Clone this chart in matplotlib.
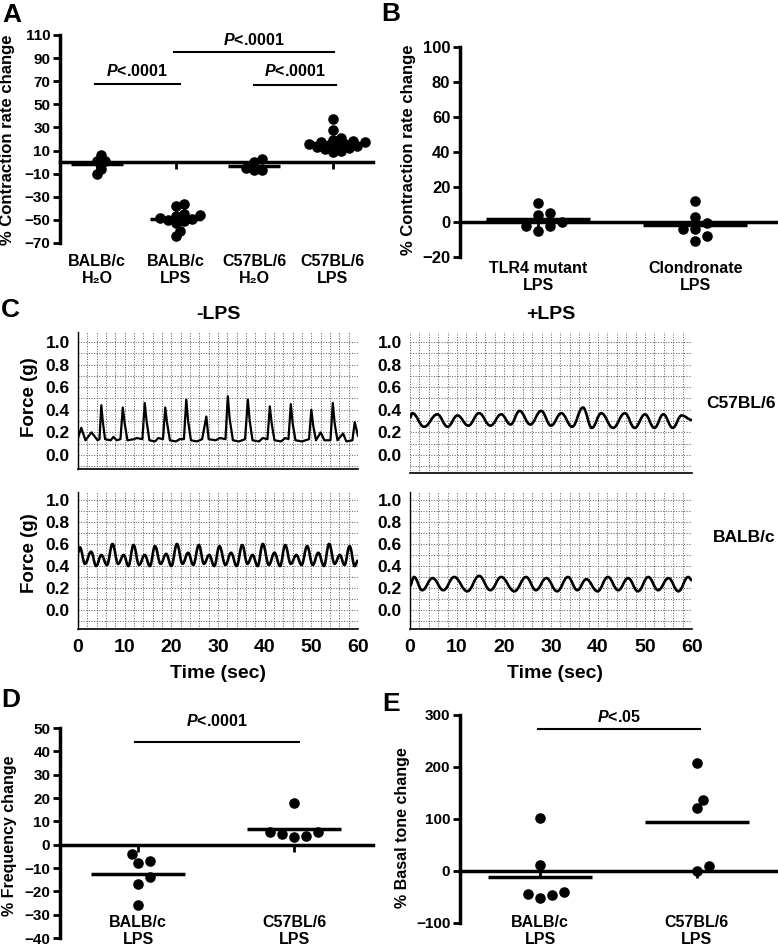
import numpy as np
import matplotlib
matplotlib.use('Agg')
import matplotlib.pyplot as plt
import matplotlib.transforms as mtrans
from matplotlib.path import Path
from matplotlib.patches import PathPatch
from matplotlib.ticker import MultipleLocator

plt.rcParams['font.family'] = ['Liberation Sans', 'DejaVu Sans']
plt.rcParams['font.weight'] = 'bold'
plt.rcParams['mathtext.fontset'] = 'custom'
plt.rcParams['mathtext.it'] = 'Liberation Sans:italic:bold'
plt.rcParams['mathtext.rm'] = 'Liberation Sans:bold'

# ---- data ----
# A: % contraction rate change
a_labels = ['BALB/c\nH₂O', 'BALB/c\nLPS', 'C57BL/6\nH₂O', 'C57BL/6\nLPS']
a_balb_h2o = [1, 1, 6, -10, -6]
a_balb_lps = [-38, -36, -46, -47, -45, -49, -50, -51, -48, -53, -60, -64]
a_c57_h2o = [3, -5, -7, -7, 0]
a_c57_lps = [37, 28, 21, 19, 18, 17, 17, 16, 16, 15, 14, 14, 13, 12, 11, 10, 9]

# B: % contraction rate change
b_labels = ['TLR4 mutant\nLPS', 'Clondronate\nLPS']
b_tlr4 = [11, 5, 4, 0, -2, -2, -5]
b_clod = [12, 3, -0.5, -4, -4, -8, -11]

# C: force traces (time s, force g), vertices
c57_ctrl_t = [0, 0.7, 1.6, 2.9, 4.2, 4.6, 5.0, 5.3, 5.8, 7.0, 7.6, 8.3, 9.1, 9.6, 10.0, 10.6,
              12.0, 12.6, 13.8, 14.3, 14.7, 15.3, 16.5, 17.2, 18.2, 18.7, 19.1, 19.7, 21.0,
              21.8, 22.7, 23.2, 23.6, 24.2, 25.5, 26.6, 27.5, 28.0, 29.5, 30.4, 31.6, 32.1,
              32.5, 33.2, 34.5, 35.8, 36.4, 36.8, 37.4, 38.8, 39.6, 40.6, 41.1, 41.5, 42.1,
              43.5, 44.4, 45.1, 45.6, 46.0, 46.6, 48.0, 49.5, 50.0, 50.4, 51.0, 52.0, 52.8,
              54.1, 54.6, 55.0, 55.6, 56.8, 57.5, 58.8, 59.3, 60.0]
c57_ctrl_f = [0.15, 0.24, 0.13, 0.20, 0.13, 0.14, 0.44, 0.30, 0.14, 0.13, 0.16, 0.13, 0.14, 0.42,
              0.28, 0.13, 0.14, 0.15, 0.14, 0.46, 0.30, 0.13, 0.12, 0.15, 0.14, 0.42, 0.28, 0.13,
              0.12, 0.14, 0.14, 0.49, 0.30, 0.13, 0.12, 0.14, 0.34, 0.14, 0.13, 0.15, 0.14, 0.52,
              0.32, 0.13, 0.12, 0.14, 0.49, 0.30, 0.13, 0.12, 0.15, 0.14, 0.43, 0.28, 0.13, 0.12,
              0.15, 0.14, 0.45, 0.28, 0.13, 0.12, 0.14, 0.40, 0.26, 0.13, 0.20, 0.13, 0.13, 0.46,
              0.28, 0.13, 0.19, 0.12, 0.13, 0.29, 0.17]

c57_lps_t = [0, 0.5, 3.0, 5.8, 8.0, 10.1, 12.4, 14.7, 17.1, 19.4, 21.4, 23.3, 25.6, 27.9, 30.0,
             32.2, 34.5, 36.8, 38.7, 40.7, 43.2, 45.7, 47.8, 50.0, 52.0, 53.9, 55.9, 57.8, 60.0]
c57_lps_f = [0.33, 0.37, 0.25, 0.36, 0.25, 0.35, 0.26, 0.37, 0.26, 0.36, 0.27, 0.39, 0.27, 0.39,
             0.26, 0.37, 0.25, 0.42, 0.24, 0.37, 0.24, 0.37, 0.24, 0.36, 0.24, 0.36, 0.24, 0.35, 0.31]

balb_ctrl_t = [0, 0.4, 1.5, 2.8, 3.9, 5.0, 6.2, 7.4, 8.6, 9.8, 10.8, 11.9, 13.1, 14.3, 15.4,
               16.5, 17.7, 18.9, 20.0, 21.2, 22.4, 23.6, 24.7, 25.9, 27.0, 28.1, 29.2, 30.3,
               31.6, 32.8, 34.0, 35.2, 36.3, 37.4, 38.5, 39.6, 40.9, 42.1, 43.3, 44.4, 45.6,
               46.8, 47.9, 49.1, 50.3, 51.5, 52.7, 53.8, 55.0, 56.1, 57.1, 58.2, 59.3, 60.0]
balb_ctrl_f = [0.52, 0.57, 0.42, 0.53, 0.40, 0.50, 0.41, 0.60, 0.42, 0.50, 0.40, 0.59, 0.41,
               0.50, 0.40, 0.58, 0.42, 0.51, 0.40, 0.60, 0.42, 0.52, 0.41, 0.59, 0.42, 0.50,
               0.40, 0.58, 0.41, 0.52, 0.40, 0.59, 0.42, 0.50, 0.40, 0.60, 0.41, 0.52, 0.40,
               0.59, 0.42, 0.50, 0.41, 0.58, 0.41, 0.52, 0.40, 0.60, 0.42, 0.50, 0.41, 0.58,
               0.40, 0.45]

balb_lps_t = [0, 0.85, 2.6, 4.8, 7.1, 9.4, 12.2, 14.7, 17.1, 19.4, 22.2, 24.7, 26.8, 29.0,
              31.3, 33.6, 35.6, 37.5, 39.9, 42.1, 44.3, 46.4, 48.5, 50.7, 52.8, 55.0, 57.1,
              59.2, 60.0]
balb_lps_f = [0.22, 0.30, 0.18, 0.29, 0.18, 0.30, 0.17, 0.31, 0.18, 0.30, 0.17, 0.30, 0.18,
              0.29, 0.17, 0.30, 0.18, 0.28, 0.17, 0.30, 0.18, 0.29, 0.17, 0.30, 0.18, 0.29,
              0.17, 0.30, 0.27]

# D: % frequency change
d_labels = ['BALB/c\nLPS', 'C57BL/6\nLPS']
d_balb = [-4, -8, -7, -14, -17, -26]
d_c57 = [18, 5.4, 4.6, 3.3, 3.6, 5.4]

# E: % basal tone change
e_labels = ['BALB/c\nLPS', 'C57BL/6\nLPS']
e_balb = [101, 12, -44, -52, -46, -41]
e_c57 = [208, 137, 121, 0, 9]

# ---- layout helpers (pixel coordinates of the 778x951 figure) ----
W, H = 778, 951
fig = plt.figure(figsize=(W / 100, H / 100), dpi=100)


def box(left, top, right, bottom):
    return [left / W, 1 - bottom / H, (right - left) / W, (bottom - top) / H]


def ftext(px, py, s, **kw):
    fig.text(px / W, 1 - py / H, s, **kw)


def swarm(ax, pos, vals, gap, step):
    # spread overlapping dots sideways, like a column scatter
    tr = ax.transData
    placed = []
    xs = np.zeros(len(vals))
    for i in np.argsort(vals):
        px, py = tr.transform((pos, vals[i]))
        for k in range(80):
            off = ((k + 1) // 2) * step * (1 if k % 2 else -1)
            if all(np.hypot(px + off - qx, py - qy) >= gap for qx, qy in placed):
                break
        placed.append((px + off, py))
        xs[i] = tr.inverted().transform((px + off, py))[0]
    return xs


def dot_panel(ax, groups, labels, ylim, yticks, xlim, hw, label_py, fs_tick=11,
              gap=10, step=6):
    ax.set_xlim(*xlim)
    ax.set_ylim(*ylim)
    for s in ['top', 'right']:
        ax.spines[s].set_visible(False)
    ax.spines['left'].set_linewidth(2.5)
    ax.spines['bottom'].set_position(('data', 0))
    ax.spines['bottom'].set_linewidth(2.5)
    ax.spines['bottom'].set_zorder(5)
    ax.set_xticks(range(1, len(groups) + 1))
    ax.set_xticklabels([])
    ax.tick_params(axis='x', length=5, width=2)
    ax.set_yticks(yticks)
    ax.tick_params(axis='y', length=5, width=2, labelsize=fs_tick, pad=2)
    for i, vals in enumerate(groups, start=1):
        xs = swarm(ax, i, vals, gap, step)
        ax.scatter(xs, vals, s=58, color='black', linewidths=0, zorder=3, clip_on=False)
        ax.hlines(np.mean(vals), i - hw, i + hw, color='black', lw=2.5, zorder=4)
    tr = mtrans.blended_transform_factory(ax.transData, fig.transFigure)
    for i, lab in enumerate(labels, start=1):
        ax.text(i, 1 - label_py / H, lab, transform=tr, ha='center', va='top',
                fontsize=11.5, linespacing=1.15)


def sig(ax, x0, x1, y, ty, text):
    ax.plot([x0, x1], [y, y], color='black', lw=1.5, clip_on=False)
    ax.text((x0 + x1) / 2, ty, text, ha='center', va='center', fontsize=11.5, clip_on=False)


def smooth_path(t, f):
    verts = [(t[0], f[0])]
    codes = [Path.MOVETO]
    for i in range(1, len(t)):
        dt = t[i] - t[i - 1]
        verts += [(t[i - 1] + dt * 0.4, f[i - 1]), (t[i] - dt * 0.4, f[i]), (t[i], f[i])]
        codes += [Path.CURVE4] * 3
    return Path(verts, codes)


def trace_panel(ax, t, f, ylim, left_spine, xlabels, smooth):
    ax.set_xlim(0, 60)
    ax.set_ylim(*ylim)
    ax.spines['top'].set_visible(False)
    ax.spines['right'].set_visible(False)
    ax.spines['left'].set_visible(left_spine)
    ax.spines['left'].set_linewidth(1.0)
    ax.spines['bottom'].set_linewidth(1.2)
    ax.set_xticks(range(0, 61, 10))
    ax.set_yticks(np.arange(0, 1.01, 0.2))
    ax.set_yticklabels(['%.1f' % v for v in np.arange(0, 1.01, 0.2)])
    ax.xaxis.set_minor_locator(MultipleLocator(2))
    ax.yaxis.set_minor_locator(MultipleLocator(0.1))
    ax.grid(which='both', color='#666666', lw=0.75, ls=(0, (1, 1.5)))
    ax.set_axisbelow(True)
    ax.tick_params(which='both', length=0)
    ax.tick_params(axis='y', labelsize=12.5, pad=6)
    if xlabels:
        ax.tick_params(axis='x', labelsize=14, pad=7)
    else:
        ax.tick_params(axis='x', labelbottom=False)
    if smooth:
        ax.add_patch(PathPatch(smooth_path(t, f), fill=False, lw=1.9, color='black'))
    else:
        ax.plot(t, f, color='black', lw=1.6)


# ---- A ----
axA = fig.add_axes(box(60, 35, 373, 243))
dot_panel(axA, [a_balb_h2o, a_balb_lps, a_c57_h2o, a_c57_lps], a_labels,
          (-70, 110), range(-70, 111, 20), (0.53, 4.51), 0.33, 254, gap=6, step=4)
sig(axA, 0.97, 2.05, 68, 79, r'$P$<.0001')
sig(axA, 1.98, 4.02, 95.6, 106, r'$P$<.0001')
sig(axA, 3.0, 4.04, 66.8, 79, r'$P$<.0001')
ftext(8, 140, '% Contraction rate change', rotation=90, ha='center', va='center', fontsize=12)

# ---- B ----
axB = fig.add_axes(box(460, 47, 777, 257))
dot_panel(axB, [b_tlr4, b_clod], b_labels, (-20, 100), range(-20, 101, 20),
          (0.503, 2.52), 0.33, 261, fs_tick=12)
ftext(408, 150, '% Contraction rate change', rotation=90, ha='center', va='center', fontsize=12)

# ---- C ----
axC1 = fig.add_axes(box(78, 332, 358, 469))
trace_panel(axC1, c57_ctrl_t, c57_ctrl_f, (-0.124, 1.088), True, False, False)
axC2 = fig.add_axes(box(410, 332, 692, 473))
trace_panel(axC2, c57_lps_t, c57_lps_f, (-0.159, 1.088), False, False, True)
axC3 = fig.add_axes(box(78, 492, 358, 629))
trace_panel(axC3, balb_ctrl_t, balb_ctrl_f, (-0.173, 1.073), True, True, True)
axC4 = fig.add_axes(box(410, 492, 692, 629))
trace_panel(axC4, balb_lps_t, balb_lps_f, (-0.173, 1.073), True, True, True)

ftext(218, 315, '-LPS', ha='center', va='center', fontsize=14)
ftext(551, 315, '+LPS', ha='center', va='center', fontsize=14)
ftext(776, 403, 'C57BL/6', ha='right', va='center', fontsize=12.5)
ftext(776, 537, 'BALB/c', ha='right', va='center', fontsize=12.5)
ftext(29, 397, 'Force (g)', rotation=90, ha='center', va='center', fontsize=13.5)
ftext(29, 553, 'Force (g)', rotation=90, ha='center', va='center', fontsize=13.5)
ftext(218, 673, 'Time (sec)', ha='center', va='center', fontsize=14)
ftext(555, 673, 'Time (sec)', ha='center', va='center', fontsize=14)

# ---- D ----
axD = fig.add_axes(box(60, 728, 373, 938))
dot_panel(axD, [d_balb, d_c57], d_labels, (-40, 50), range(-40, 51, 10),
          (0.5, 2.506), 0.3, 915)
sig(axD, 0.98, 2.03, 44, 53, r'$P$<.0001')
ftext(10, 836, '% Frequency change', rotation=90, ha='center', va='center', fontsize=11.5)

# ---- E ----
axE = fig.add_axes(box(460, 715, 777, 923))
dot_panel(axE, [e_balb, e_c57], e_labels, (-100, 300), range(-100, 301, 100),
          (0.49, 2.51), 0.33, 915)
sig(axE, 0.99, 2.02, 274, 297, r'$P$<.05')
ftext(403, 828, '% Basal tone change', rotation=90, ha='center', va='center', fontsize=11.5)

# panel letters
for letter, px, py in [('A', 2, 3), ('B', 381, 2), ('C', 1, 298), ('D', 1, 688), ('E', 382, 692)]:
    ftext(px, py, letter, ha='left', va='top', fontsize=19)

fig.savefig('out.png', dpi=100)
